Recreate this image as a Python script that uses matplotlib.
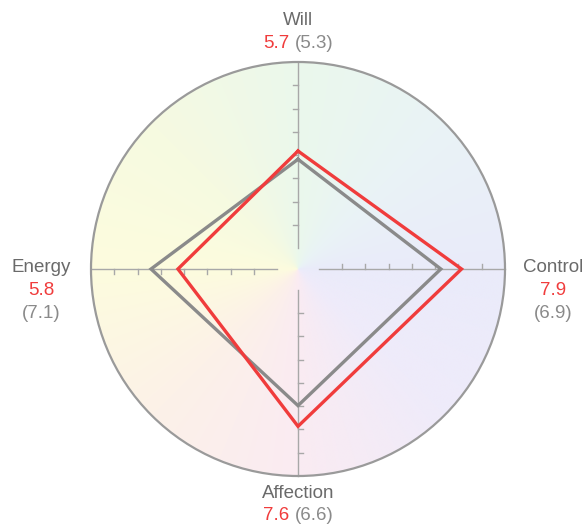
import numpy as np
import matplotlib
matplotlib.use('Agg')
import matplotlib.pyplot as plt
from matplotlib.patches import Circle

# ---- data ----
categories = ['Will', 'Control', 'Affection', 'Energy']
current = [5.7, 7.9, 7.6, 5.8]
previous = [5.3, 6.9, 6.6, 7.1]
angles_deg = [90, 0, 270, 180]
max_val = 10
axis_start = 1

# ---- styles ----
RED = '#f03c3c'
GRAY = '#8a8a8a'
LABEL = '#6a6a6a'
FONT = 'Liberation Sans'
FS = 13.5

# background colour stops (angle in degrees, rgb)
bg_angles = [-180, -135, -90, -45, 0, 45, 90, 135, 180]
bg_colors = [(253, 252, 222), (252, 241, 232), (250, 235, 242), (239, 235, 250),
             (234, 235, 250), (233, 243, 246), (235, 248, 236), (246, 250, 225),
             (253, 252, 222)]

W, H = 587, 530
cx, cy = 298, 269
s = 20.7  # px per unit

fig = plt.figure(figsize=(W / 100, H / 100), dpi=100)
ax = fig.add_axes([0, 0, 1, 1])
ax.set_xlim(-cx / s, (W - cx) / s)
ax.set_ylim(-(H - cy) / s, cy / s)
ax.axis('off')

# ---- conic pastel background ----
n = 700
g = np.linspace(-max_val, max_val, n)
X, Y = np.meshgrid(g, g)
theta = np.degrees(np.arctan2(Y, X))
cols = np.array(bg_colors, dtype=float) / 255
rgb = np.stack([np.interp(theta, bg_angles, cols[:, k]) for k in range(3)], axis=-1)
circ = Circle((0, 0), max_val, transform=ax.transData)
im = ax.imshow(rgb, origin='lower', extent=(-max_val, max_val, -max_val, max_val),
               interpolation='bilinear', zorder=0)
im.set_clip_path(circ)
ax.add_patch(Circle((0, 0), max_val, fill=False, ec='#9a9a9a', lw=1.6, zorder=3))

# ---- axes with ticks ----
tick_vals = np.linspace(axis_start, max_val, 9)[1:-1]
tl = 0.22
for ang in angles_deg:
    r = np.radians(ang)
    ux, uy = np.cos(r), np.sin(r)
    px, py = np.cos(r + np.pi / 2), np.sin(r + np.pi / 2)
    ax.plot([axis_start * ux, max_val * ux], [axis_start * uy, max_val * uy],
            color='#a8a8a8', lw=1.0, zorder=1)
    for t in tick_vals:
        ax.plot([t * ux, t * ux + tl * px], [t * uy, t * uy + tl * py],
                color='#a8a8a8', lw=1.0, zorder=1)

# ---- polygons ----
def poly(vals, color, z):
    xs = [v * np.cos(np.radians(an)) for v, an in zip(vals, angles_deg)]
    ys = [v * np.sin(np.radians(an)) for v, an in zip(vals, angles_deg)]
    xs.append(xs[0]); ys.append(ys[0])
    ax.plot(xs, ys, color=color, lw=2.4, zorder=z, solid_joinstyle='miter')

poly(previous, GRAY, 4)
poly(current, RED, 5)

# ---- labels ----
fig.canvas.draw()
renderer = fig.canvas.get_renderer()

def txt(x, y, t, c, ha='center'):
    return ax.text(x, y, t, color=c, fontsize=FS, family=FONT, ha=ha, va='center', zorder=6)

def two_color(x, y, a_txt, b_txt):
    t1 = txt(0, y, a_txt, RED, ha='left')
    t2 = txt(0, y, b_txt, GRAY, ha='left')
    sp = txt(0, y, 'a a', GRAY, ha='left')
    sp2 = txt(0, y, 'aa', GRAY, ha='left')
    w1 = t1.get_window_extent(renderer).width / s
    w2 = t2.get_window_extent(renderer).width / s
    wsp = (sp.get_window_extent(renderer).width - sp2.get_window_extent(renderer).width) / s
    sp.remove(); sp2.remove()
    total = w1 + wsp + w2
    x0 = x - total / 2
    t1.set_x(x0)
    t2.set_x(x0 + w1 + wsp)

label_pos = {
    'Will': ((0, (cy - 20) / s), 'line'),
    'Affection': ((0, (cy - 493) / s), 'line'),
    'Control': (((553 - cx) / s, (cy - 267) / s), 'stack'),
    'Energy': (((41 - cx) / s, (cy - 267) / s), 'stack'),
}
line_gap = 23 / s
for cat, cur, prev in zip(categories, current, previous):
    (x, y), mode = label_pos[cat]
    txt(x, y, cat, LABEL)
    if mode == 'line':
        two_color(x, y - line_gap, f'{cur:.1f}', f'({prev:.1f})')
    else:
        txt(x, y - line_gap, f'{cur:.1f}', RED)
        txt(x, y - 2 * line_gap, f'({prev:.1f})', GRAY)

fig.savefig('out.png', dpi=100)
